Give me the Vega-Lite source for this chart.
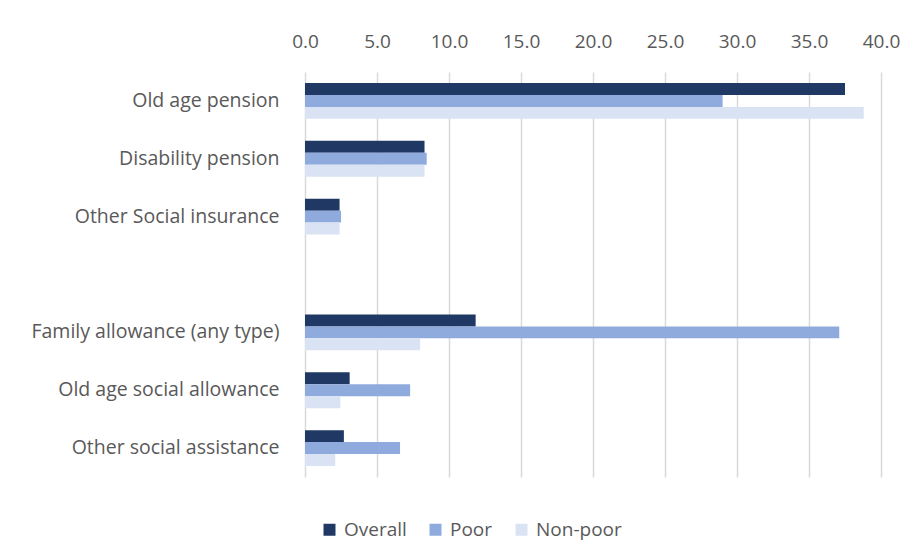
{
  "$schema": "https://vega.github.io/schema/vega-lite/v6.json",
  "width": 576,
  "height": 405,
  "autosize": "none",
  "padding": {"left": 305, "top": 72, "right": 33, "bottom": 79},
  "background": "white",
  "config": {"view": {"stroke": null}, "font": "Open Sans"},
  "data": {
    "values": [
      {"category": "Old age pension", "series": "Overall", "value": 37.5},
      {"category": "Old age pension", "series": "Poor", "value": 29.0},
      {"category": "Old age pension", "series": "Non-poor", "value": 38.8},
      {"category": "Disability pension", "series": "Overall", "value": 8.3},
      {"category": "Disability pension", "series": "Poor", "value": 8.45},
      {"category": "Disability pension", "series": "Non-poor", "value": 8.3},
      {"category": "Other Social insurance", "series": "Overall", "value": 2.4},
      {"category": "Other Social insurance", "series": "Poor", "value": 2.5},
      {"category": "Other Social insurance", "series": "Non-poor", "value": 2.4},
      {"category": "Family allowance (any type)", "series": "Overall", "value": 11.85},
      {"category": "Family allowance (any type)", "series": "Poor", "value": 37.1},
      {"category": "Family allowance (any type)", "series": "Non-poor", "value": 8.0},
      {"category": "Old age social allowance", "series": "Overall", "value": 3.1},
      {"category": "Old age social allowance", "series": "Poor", "value": 7.3},
      {"category": "Old age social allowance", "series": "Non-poor", "value": 2.45},
      {"category": "Other social assistance", "series": "Overall", "value": 2.7},
      {"category": "Other social assistance", "series": "Poor", "value": 6.6},
      {"category": "Other social assistance", "series": "Non-poor", "value": 2.1}
    ]
  },
  "mark": {"type": "bar"},
  "encoding": {
    "y": {
      "field": "category",
      "type": "nominal",
      "scale": {
        "domain": ["Old age pension", "Disability pension", "Other Social insurance", " ", "Family allowance (any type)", "Old age social allowance", "Other social assistance"],
        "paddingInner": 0.38,
        "paddingOuter": 0.19
      },
      "axis": {
        "title": null,
        "ticks": false,
        "domain": false,
        "grid": false,
        "labelFontSize": 19.5,
        "labelColor": "#595959",
        "labelPadding": 26,
        "labelLimit": 400
      }
    },
    "x": {
      "field": "value",
      "type": "quantitative",
      "scale": {"domain": [0, 40], "nice": false},
      "axis": {
        "orient": "top",
        "title": null,
        "values": [0, 5, 10, 15, 20, 25, 30, 35, 40],
        "format": ".1f",
        "ticks": false,
        "domain": false,
        "grid": true,
        "gridColor": "#D9D9D9",
        "gridWidth": 1.5,
        "labelFlush": false,
        "labelFontSize": 19,
        "labelColor": "#595959",
        "labelPadding": 21
      }
    },
    "yOffset": {
      "field": "series",
      "sort": ["Overall", "Poor", "Non-poor"],
      "scale": {"paddingInner": 0, "paddingOuter": 0}
    },
    "color": {
      "field": "series",
      "type": "nominal",
      "sort": ["Overall", "Poor", "Non-poor"],
      "scale": {
        "domain": ["Overall", "Poor", "Non-poor"],
        "range": ["#1F3864", "#8FAADC", "#DAE3F3"]
      },
      "legend": {
        "title": null,
        "orient": "none",
        "direction": "horizontal",
        "legendX": 15,
        "legendY": 448,
        "symbolType": "square",
        "symbolSize": 144,
        "symbolStrokeWidth": 0,
        "labelFontSize": 19,
        "labelColor": "#595959",
        "labelOffset": 5,
        "columnPadding": 19
      }
    }
  }
}
